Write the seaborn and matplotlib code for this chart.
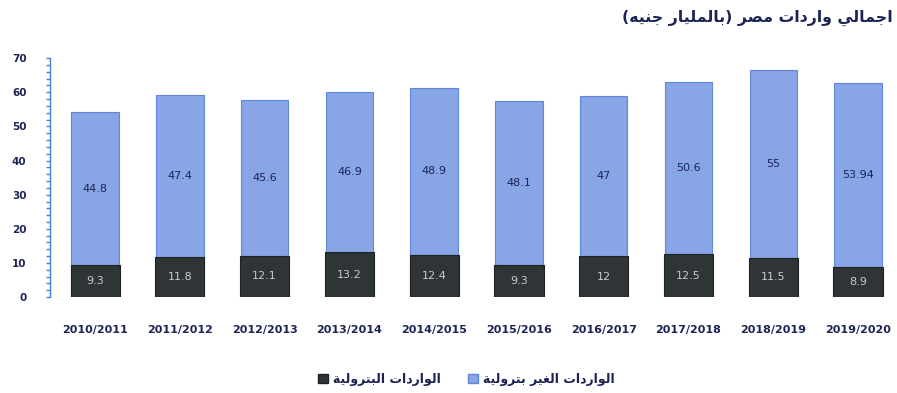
import numpy as np
import pandas as pd
import seaborn as sns
import matplotlib
matplotlib.use("Agg")
import matplotlib.pyplot as plt
from matplotlib.ticker import MultipleLocator
from matplotlib.patches import Patch

# ---- data ----
periods = ["2010/2011", "2011/2012", "2012/2013", "2013/2014", "2014/2015",
           "2015/2016", "2016/2017", "2017/2018", "2018/2019", "2019/2020"]
non_petroleum = [44.8, 47.4, 45.6, 46.9, 48.9, 48.1, 47, 50.6, 55, 53.94]
petroleum = [9.3, 11.8, 12.1, 13.2, 12.4, 9.3, 12, 12.5, 11.5, 8.9]
title_text = "اجمالي واردات مصر (بالمليار جنيه)"
legend_non = "الواردات الغير بترولية"
legend_pet = "الواردات البترولية"

# ---- minimal Arabic shaping (presentation forms) + visual ordering ----
FORMS = {  # iso, fin, ini, med  (None => right-joining only)
    "\u0627": ("\uFE8D", "\uFE8E", None, None),
    "\u0628": ("\uFE8F", "\uFE90", "\uFE91", "\uFE92"),
    "\u0629": ("\uFE93", "\uFE94", None, None),
    "\u062A": ("\uFE95", "\uFE96", "\uFE97", "\uFE98"),
    "\u062C": ("\uFE9D", "\uFE9E", "\uFE9F", "\uFEA0"),
    "\u062F": ("\uFEA9", "\uFEAA", None, None),
    "\u0631": ("\uFEAD", "\uFEAE", None, None),
    "\u0635": ("\uFEB9", "\uFEBA", "\uFEBB", "\uFEBC"),
    "\u0639": ("\uFEC9", "\uFECA", "\uFECB", "\uFECC"),
    "\u063A": ("\uFECD", "\uFECE", "\uFECF", "\uFED0"),
    "\u0644": ("\uFEDD", "\uFEDE", "\uFEDF", "\uFEE0"),
    "\u0645": ("\uFEE1", "\uFEE2", "\uFEE3", "\uFEE4"),
    "\u0646": ("\uFEE5", "\uFEE6", "\uFEE7", "\uFEE8"),
    "\u0647": ("\uFEE9", "\uFEEA", "\uFEEB", "\uFEEC"),
    "\u0648": ("\uFEED", "\uFEEE", None, None),
    "\u064A": ("\uFEF1", "\uFEF2", "\uFEF3", "\uFEF4"),
}


def dual(c):
    return c in FORMS and FORMS[c][2] is not None


def shape(s):
    out = []
    n = len(s)
    for i, c in enumerate(s):
        if c not in FORMS:
            out.append(c)
            continue
        prev_join = i > 0 and dual(s[i - 1])
        next_join = dual(c) and i + 1 < n and s[i + 1] in FORMS
        f = FORMS[c]
        if prev_join and next_join:
            out.append(f[3])
        elif prev_join:
            out.append(f[1])
        elif next_join:
            out.append(f[2])
        else:
            out.append(f[0])
    vis = "".join(out)[::-1]
    vis = vis.translate(str.maketrans({"(": ")", ")": "("}))
    return vis


df = pd.DataFrame({"period": periods, "non": non_petroleum, "petro": petroleum})
df["total"] = df["non"] + df["petro"]

# ---- style ----
sns.set_theme(style="white")
plt.rcParams["font.family"] = ["DejaVu Sans"]
navy = "#1c2456"
blue = "#88a5e5"
blue_edge = "#5f86dc"
dark = "#2f3536"
axis_blue = "#3f86d8"

fig = plt.figure(figsize=(8.97, 3.93), dpi=100)
ax = fig.add_axes([0.056, 0.244, 0.944, 0.608])

sns.barplot(data=df, x="period", y="total", color=blue, saturation=1,
            width=0.56, edgecolor=blue_edge, linewidth=0.8, ax=ax)
sns.barplot(data=df, x="period", y="petro", color=dark, saturation=1,
            width=0.58, edgecolor="#1e2222", linewidth=0.8, ax=ax)

for i, (nv, pv) in enumerate(zip(non_petroleum, petroleum)):
    ax.text(i, pv + nv / 2, f"{nv:g}", ha="center", va="center",
            fontsize=8, color=navy)
    ax.text(i, pv / 2, f"{pv:g}", ha="center", va="center",
            fontsize=8, color="#c9cbcb")

ax.set_xlim(-0.53, 9.46)
ax.set_ylim(0, 70)
ax.set_xlabel("")
ax.set_ylabel("")
ax.yaxis.set_major_locator(MultipleLocator(10))
ax.yaxis.set_minor_locator(MultipleLocator(2))
ax.tick_params(axis="y", which="major", length=3, width=1, color=axis_blue,
               pad=14, labelsize=7.5, labelcolor=navy, left=True)
ax.tick_params(axis="y", which="minor", length=3, width=1, color=axis_blue, left=True)
for lab in ax.get_yticklabels():
    lab.set_fontweight("bold")
ax.tick_params(axis="x", length=0, pad=20, labelsize=8, labelcolor=navy)
for lab in ax.get_xticklabels():
    lab.set_fontweight("bold")

for side in ["top", "right", "bottom"]:
    ax.spines[side].set_visible(False)
ax.spines["left"].set_color(axis_blue)
ax.spines["left"].set_linewidth(1.0)
ax.spines["left"].set_linestyle((0, (1, 1)))

fig.text(0.995, 0.955, shape(title_text), ha="right", va="center",
         fontsize=11.3, fontweight="bold", color=navy)

handles = [Patch(facecolor=dark, edgecolor="#1e2222", label=shape(legend_pet)),
           Patch(facecolor=blue, edgecolor=blue_edge, label=shape(legend_non))]
leg = fig.legend(handles=handles, loc="center", bbox_to_anchor=(0.52, 0.035),
                 ncol=2, frameon=False, fontsize=9, handlelength=0.8,
                 handleheight=0.8, handletextpad=0.4, columnspacing=2.2)
for t in leg.get_texts():
    t.set_color(navy)
    t.set_fontweight("bold")

fig.savefig("out.png", dpi=100)
